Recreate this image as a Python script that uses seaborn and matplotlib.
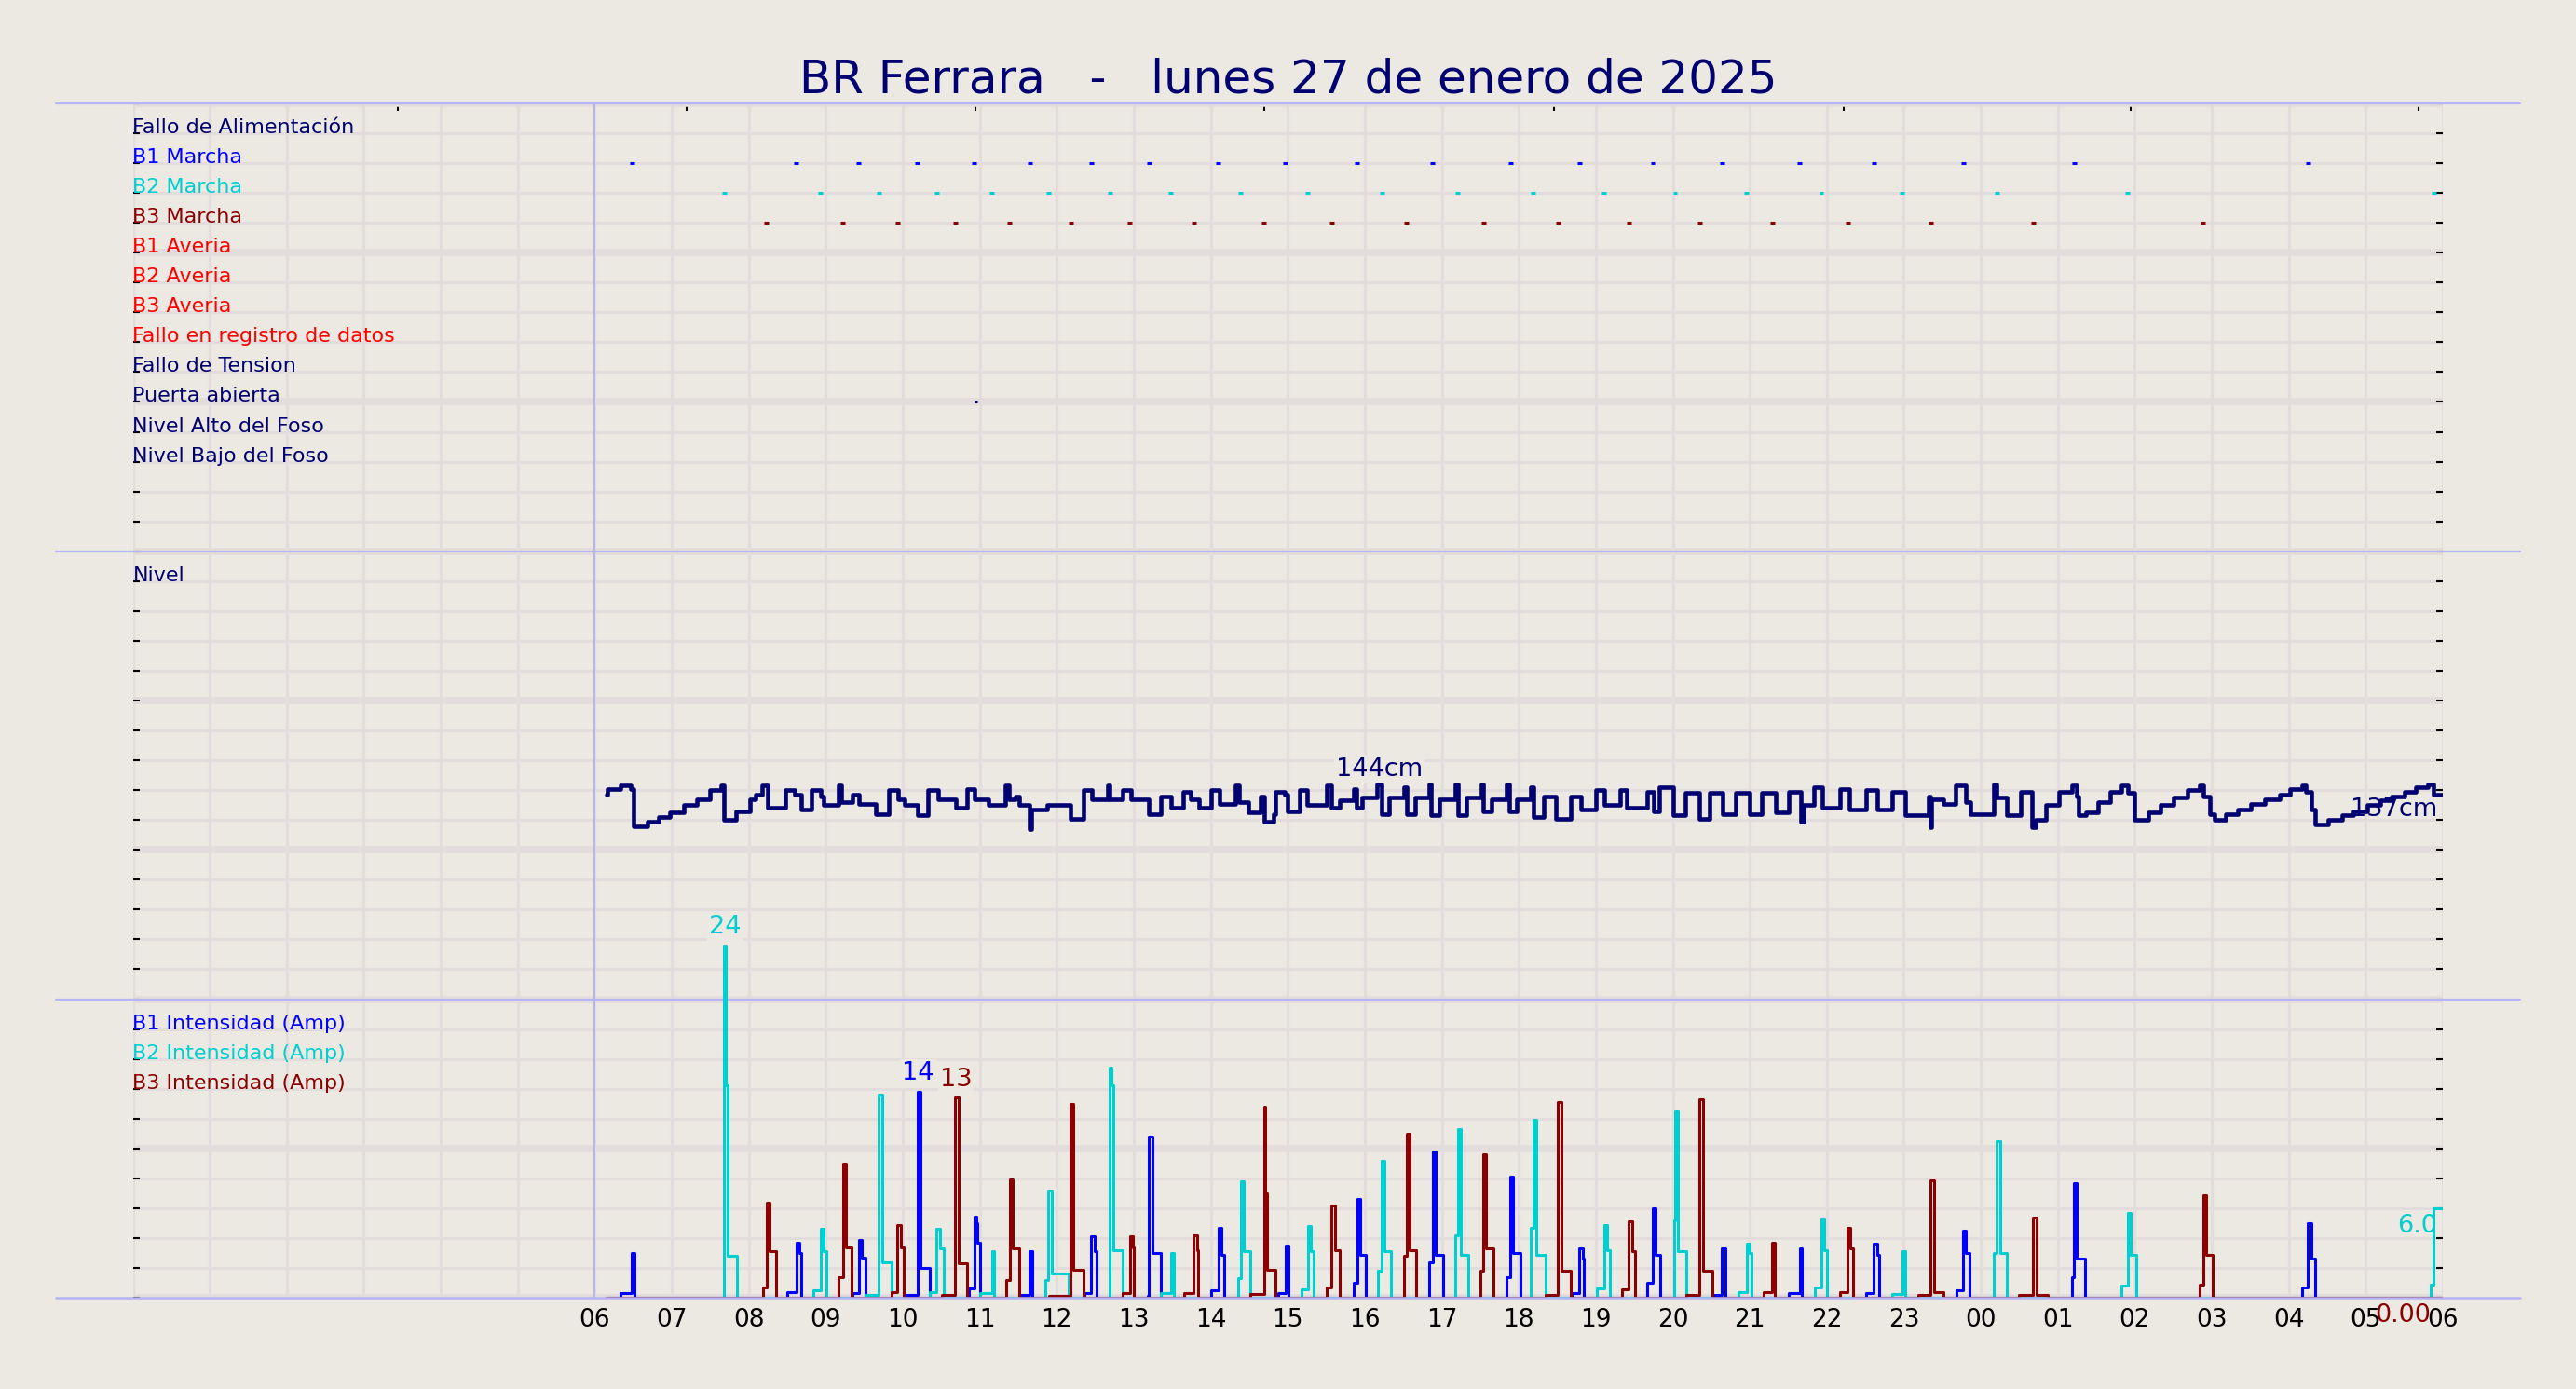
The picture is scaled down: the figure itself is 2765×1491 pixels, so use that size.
import matplotlib
matplotlib.use("Agg")
import matplotlib.pyplot as plt
from matplotlib.ticker import MultipleLocator
import seaborn as sns
import pandas as pd

# ---------------- datos ----------------
titulo = "BR Ferrara   -   lunes 27 de enero de 2025"

estado_labels = ["Fallo de Alimentación", "B1 Marcha", "B2 Marcha", "B3 Marcha",
                 "B1 Averia", "B2 Averia", "B3 Averia", "Fallo en registro de datos",
                 "Fallo de Tension", "Puerta abierta", "Nivel Alto del Foso",
                 "Nivel Bajo del Foso"]
intensidad_labels = ["B1 Intensidad (Amp)", "B2 Intensidad (Amp)", "B3 Intensidad (Amp)"]

# horas desde las 00:00 del 27 (30 = 06:00 del 28)
horas = list(range(0, 31))
hora_labels = ["", "", "", "", "", "",
               "06", "07", "08", "09", "10", "11", "12", "13", "14", "15", "16",
               "17", "18", "19", "20", "21", "22", "23", "00", "01", "02", "03",
               "04", "05", "06"]
top_ticks = [3.44, 7.19, 10.94, 14.70, 18.46, 22.22, 25.95, 29.68]

puerta_abierta_t = [10.95]

# nivel del foso (cm)
nivel_t = [6.15, 6.16, 6.33, 6.47, 6.50, 6.68, 6.83, 6.98, 7.16, 7.33, 7.49, 7.64, 7.68, 7.83,
           8.01, 8.09, 8.17, 8.24, 8.47, 8.60, 8.68, 8.81, 8.93, 8.97, 9.17, 9.20, 9.35, 9.43,
           9.65, 9.82, 9.94, 10.02, 10.19, 10.33, 10.46, 10.69, 10.84, 10.93, 11.11, 11.33, 11.38,
           11.46, 11.51, 11.65, 11.67, 11.88, 12.18, 12.35, 12.46, 12.66, 12.69, 12.85, 12.96,
           13.20, 13.35, 13.49, 13.64, 13.74, 13.85, 14.00, 14.11, 14.32, 14.37, 14.49, 14.65,
           14.69, 14.81, 14.84, 14.96, 15.00, 15.16, 15.25, 15.50, 15.57, 15.67, 15.86, 15.89,
           15.97, 16.16, 16.22, 16.32, 16.51, 16.54, 16.65, 16.84, 16.86, 16.97, 17.18, 17.21,
           17.32, 17.51, 17.54, 17.65, 17.84, 17.88, 17.97, 18.16, 18.19, 18.32, 18.48, 18.67,
           18.81, 19.00, 19.11, 19.32, 19.40, 19.67, 19.75, 19.83, 20.00, 20.16, 20.35, 20.48,
           20.65, 20.82, 21.00, 21.16, 21.34, 21.51, 21.66, 21.70, 21.83, 21.94, 22.17, 22.29,
           22.51, 22.65, 22.85, 23.02, 23.32, 23.34, 23.36, 23.52, 23.67, 23.80, 23.86, 24.17,
           24.21, 24.34, 24.52, 24.67, 24.71, 24.85, 25.02, 25.18, 25.24, 25.27, 25.37, 25.52,
           25.68, 25.83, 25.91, 25.99, 26.18, 26.33, 26.50, 26.68, 26.84, 26.89, 26.97, 27.03,
           27.18, 27.34, 27.51, 27.69, 27.88, 28.02, 28.17, 28.22, 28.29, 28.34, 28.51, 28.69,
           28.84, 29.02, 29.19, 29.34, 29.50, 29.65, 29.81, 29.88, 30.00]
nivel_cm = [137, 141, 143, 141, 116, 119, 122, 125, 130, 134, 140, 143, 120, 126,
            134, 137, 143, 128, 140, 137, 127, 140, 136, 130, 143, 132, 137, 131,
            124, 140, 134, 130, 123, 140, 134, 128, 141, 134, 130, 143, 134,
            136, 130, 114, 127, 130, 121, 140, 134, 143, 134, 140, 134,
            124, 136, 128, 139, 134, 128, 140, 131, 143, 132, 125, 136,
            119, 124, 139, 137, 126, 140, 130, 143, 128, 133, 141, 128,
            135, 144, 124, 135, 142, 124, 135, 144, 123, 134, 144, 123,
            135, 144, 126, 134, 144, 126, 134, 142, 122, 136, 121, 136,
            127, 140, 130, 140, 128, 139, 126, 142, 123, 138, 121, 138,
            124, 138, 124, 138, 125, 139, 119, 130, 142, 128, 141, 127,
            140, 127, 139, 123, 136, 115, 134, 131, 143, 132, 124, 144,
            135, 123, 139, 115, 120, 130, 139, 143, 136, 123, 125, 132,
            139, 143, 138, 120, 125, 130, 135, 140, 143, 136, 124, 120,
            124, 127, 131, 134, 137, 141, 143, 139, 127, 117, 120, 123,
            126, 130, 133, 136, 139, 142, 144, 137, 137]

# arranques de bombas: (inicio, pico, fin, A previo, A pico, A tras pico, A meseta)
b1_runs = [(6.33, 6.48, 6.51, 0.3, 3.0, 3.0, 2.8),
           (8.50, 8.62, 8.68, 0.4, 3.7, 3.7, 3.0),
           (9.35, 9.43, 9.52, 0.3, 3.9, 3.9, 2.7),
           (10.03, 10.19, 10.35, 0.2, 13.8, 13.8, 2.0),
           (10.86, 10.93, 11.00, 0.6, 5.4, 5.0, 3.7),
           (11.52, 11.65, 11.68, 0.2, 3.1, 3.1, 3.1),
           (12.36, 12.45, 12.52, 0.3, 4.1, 4.1, 3.1),
           (13.18, 13.20, 13.35, 0.1, 10.8, 10.8, 3.0),
           (14.00, 14.10, 14.18, 0.5, 4.7, 4.7, 2.9),
           (14.87, 14.97, 15.01, 0.3, 3.5, 3.5, 3.0),
           (15.86, 15.90, 16.01, 1.0, 6.6, 6.6, 2.9),
           (16.84, 16.88, 17.02, 2.4, 9.8, 9.8, 2.85),
           (17.84, 17.89, 18.02, 1.35, 8.1, 8.1, 3.0),
           (18.69, 18.79, 18.85, 0.3, 3.3, 3.3, 2.6),
           (19.67, 19.74, 19.84, 1.0, 6.0, 6.0, 2.9),
           (20.53, 20.64, 20.68, 0.2, 3.3, 3.3, 3.0),
           (21.51, 21.65, 21.67, 0.3, 3.3, 3.3, 3.3),
           (22.51, 22.61, 22.68, 0.3, 3.6, 3.6, 2.9),
           (23.69, 23.77, 23.85, 0.5, 4.5, 4.5, 3.0),
           (25.18, 25.21, 25.35, 1.35, 7.7, 7.7, 2.65),
           (28.17, 28.25, 28.34, 0.7, 5.0, 5.0, 2.65)]
b2_runs = [(7.66, 7.68, 7.85, 0.0, 23.6, 14.2, 2.8),
           (8.84, 8.93, 9.01, 0.5, 4.6, 4.6, 3.1),
           (9.52, 9.69, 9.85, 0.2, 13.6, 13.6, 2.35),
           (10.35, 10.44, 10.53, 0.4, 4.6, 4.6, 3.3),
           (11.00, 11.16, 11.18, 0.3, 3.1, 3.1, 3.1),
           (11.85, 11.89, 12.15, 1.2, 7.2, 7.2, 1.6),
           (12.67, 12.69, 12.85, 0.0, 15.4, 14.2, 3.2),
           (13.35, 13.48, 13.52, 0.3, 3.0, 3.0, 3.0),
           (14.35, 14.39, 14.51, 1.3, 7.8, 7.8, 3.1),
           (15.18, 15.26, 15.34, 0.55, 4.8, 4.8, 3.1),
           (16.17, 16.22, 16.34, 1.8, 9.2, 9.2, 3.1),
           (17.17, 17.21, 17.34, 4.2, 11.3, 11.3, 2.9),
           (18.15, 18.19, 18.35, 4.7, 11.9, 11.9, 2.9),
           (19.01, 19.11, 19.18, 0.6, 4.85, 4.85, 3.2),
           (20.02, 20.03, 20.18, 5.2, 12.5, 12.5, 3.1),
           (20.85, 20.96, 21.02, 0.35, 3.6, 3.6, 3.0),
           (21.84, 21.93, 22.00, 0.7, 5.3, 5.3, 3.2),
           (22.85, 22.98, 23.02, 0.25, 3.1, 3.1, 3.1),
           (24.17, 24.21, 24.34, 3.0, 10.5, 10.5, 3.0),
           (25.83, 25.91, 26.02, 0.8, 5.7, 5.7, 2.9),
           (29.84, 29.88, 30.00, 0.9, 6.0, 6.0, 6.0)]
b3_runs = [(8.18, 8.23, 8.35, 0.7, 6.35, 6.35, 3.1),
           (9.17, 9.22, 9.34, 1.35, 9.0, 9.0, 3.4),
           (9.85, 9.93, 10.01, 0.4, 4.85, 4.85, 3.4),
           (10.51, 10.68, 10.84, 0.2, 13.4, 13.4, 2.3),
           (11.34, 11.39, 11.51, 1.2, 7.9, 7.9, 3.3),
           (11.90, 12.18, 12.35, 0.1, 13.0, 13.0, 1.9),
           (12.85, 12.95, 13.00, 0.3, 4.1, 4.1, 3.4),
           (13.66, 13.78, 13.84, 0.3, 4.2, 4.2, 3.2),
           (14.51, 14.69, 14.84, 0.25, 12.8, 7.0, 1.9),
           (15.51, 15.57, 15.68, 0.7, 6.15, 6.15, 3.2),
           (16.51, 16.54, 16.67, 2.8, 11.0, 11.0, 3.2),
           (17.50, 17.54, 17.67, 1.8, 9.6, 9.6, 3.3),
           (18.35, 18.51, 18.68, 0.2, 13.1, 13.1, 1.8),
           (19.34, 19.43, 19.51, 0.55, 5.1, 5.1, 3.1),
           (20.18, 20.35, 20.52, 0.2, 13.3, 13.3, 1.8),
           (21.18, 21.29, 21.33, 0.35, 3.7, 3.7, 3.1),
           (22.17, 22.27, 22.34, 0.4, 4.7, 4.7, 3.3),
           (23.19, 23.35, 23.52, 0.2, 7.85, 7.85, 0.35),
           (24.50, 24.68, 24.87, 0.2, 5.35, 5.35, 0.2),
           (26.84, 26.89, 27.01, 0.9, 6.85, 6.85, 2.9)]

T_INI, T_FIN = 6.15, 30.0

# ---------------- estilo ----------------
BG = "#ECE8E2"
GRID = "#E2DDDC"
SEP = "#B4B4F6"
NAVY = "#000070"
C_B1, C_B2, C_B3, RED = "#0000FF", "#00CED1", "#8B0000", "#FF0000"
estado_colors = [NAVY, C_B1, C_B2, C_B3, RED, RED, RED, RED, NAVY, NAVY, NAVY, NAVY]

sns.set_style("white", {"axes.facecolor": BG, "figure.facecolor": BG})
plt.rcParams["font.family"] = ["DejaVu Sans"]


def serie_bomba(runs):
    t, a = [T_INI], [0.0]
    for t0, tp, t1, pre, pico, medio, meseta in runs:
        t += [t0, tp, min(tp + 0.02, t1), min(tp + 0.04, t1)]
        a += [pre, pico, medio, meseta]
        if t1 < T_FIN:
            t.append(t1)
            a.append(0.0)
    t.append(T_FIN)
    a.append(a[-1])
    return pd.DataFrame({"hora": t, "amp": a})


fig = plt.figure(figsize=(27.65, 14.91), dpi=100)
ax = fig.add_axes([142.5 / 2765, 98 / 1491, 2479.5 / 2765, 1282 / 1491])
ax.set_facecolor(BG)

# nivel: 0 cm en y=10, 20 cm por fila ; intensidad: 2 A por fila
ax_niv = ax.twinx()
ax_amp = ax.twinx()

# --- estado (marchas) ---
for i, runs in enumerate([b1_runs, b2_runs, b3_runs]):
    picos = [r[1] for r in runs]
    ax.hlines([38 - i] * len(picos), [p - 0.03 for p in picos], [p + 0.03 for p in picos],
              color=[C_B1, C_B2, C_B3][i], lw=2.2, zorder=3)
ax.hlines([30] * len(puerta_abierta_t), [p - 0.015 for p in puerta_abierta_t],
          [p + 0.015 for p in puerta_abierta_t], color=NAVY, lw=2.2, zorder=3)

for i, (lab, c) in enumerate(zip(estado_labels, estado_colors)):
    ax.text(0, 39 - i, lab, color=c, fontsize=16, ha="left", va="baseline")
ax.text(0, 24, "Nivel", color=NAVY, fontsize=16, ha="left", va="baseline")
for i, (lab, c) in enumerate(zip(intensidad_labels, [C_B1, C_B2, C_B3])):
    ax.text(0, 9 - i, lab, color=c, fontsize=16, ha="left", va="baseline")

# --- nivel ---
df_niv = pd.DataFrame({"hora": nivel_t, "cm": nivel_cm})
sns.lineplot(data=df_niv, x="hora", y="cm", ax=ax_niv, color=NAVY, lw=3.3,
             drawstyle="steps-post", estimator=None, sort=False)
ax_niv.set_ylim(-200, 600)
imax = int(df_niv["cm"].idxmax())
tmax = (nivel_t[imax] + nivel_t[imax + 1]) / 2
lbl_box = dict(facecolor=BG, edgecolor="none", pad=1.5)
ax_niv.text(tmax, nivel_cm[imax] + 2, f"{nivel_cm[imax]}cm", color=NAVY, fontsize=19.5,
            ha="center", va="bottom", bbox=lbl_box)
ax_niv.text(29.93, nivel_cm[-1] - 2, f"{nivel_cm[-1]}cm", color=NAVY, fontsize=19.5,
            ha="right", va="top")

# --- intensidades ---
for runs, c in [(b1_runs, C_B1), (b2_runs, C_B2), (b3_runs, C_B3)]:
    df = serie_bomba(runs)
    sns.lineplot(data=df, x="hora", y="amp", ax=ax_amp, color=c, lw=2.2,
                 drawstyle="steps-post", estimator=None, sort=False)
    top = max(runs, key=lambda r: r[4])
    ax_amp.text(top[1] + 0.01, top[4] + 0.4, f"{top[4]:.0f}", color=c, fontsize=19.5,
                ha="center", va="bottom", bbox=lbl_box)
ax_amp.set_ylim(0, 80)
ult_b2 = serie_bomba(b2_runs)["amp"].iloc[-1]
ult_b3 = serie_bomba(b3_runs)["amp"].iloc[-1]
ax_amp.text(29.93, ult_b2 - 0.4, f"{ult_b2:.1f}", color=C_B2, fontsize=19.5,
            ha="right", va="top")
ax_amp.text(29.85, ult_b3 - 0.4, f"{ult_b3:.2f}", color=C_B3, fontsize=19.5,
            ha="right", va="top", clip_on=False)

for a2 in (ax_niv, ax_amp):
    a2.axis("off")

# --- ejes / rejilla ---
ax.set_xlim(0, 30)
ax.set_ylim(0, 40)
ax.set_xticks(horas)
ax.set_xticklabels(hora_labels)
ax.yaxis.set_major_locator(MultipleLocator(5))
ax.yaxis.set_minor_locator(MultipleLocator(1))
ax.set_axisbelow(True)
ax.grid(axis="x", which="major", color=GRID, lw=2.4)
ax.grid(axis="y", which="major", color=GRID, lw=5.5)
ax.grid(axis="y", which="minor", color=GRID, lw=2.2)
ax.tick_params(axis="y", which="both", direction="in", left=True, right=True,
               length=5, width=1.5, color="black", labelleft=False, labelright=False)
ax.tick_params(axis="x", which="both", length=0, labelsize=19, pad=8, colors="black")
ax.set_xlabel("")
ax.set_ylabel("")
for s in ax.spines.values():
    s.set_visible(False)

sec = ax.secondary_xaxis("top")
sec.set_xticks(top_ticks)
sec.set_xticklabels([])
sec.tick_params(direction="in", length=6, width=1.5, color="black")
sec.spines["top"].set_visible(False)

for y in (40, 25, 10):
    ax.axhline(y, xmin=-1 / 30, xmax=31 / 30, color=SEP, lw=1.6, clip_on=False, zorder=2)
ax_amp.axhline(0, xmin=-1 / 30, xmax=31 / 30, color=SEP, lw=1.8, clip_on=False, zorder=5)
ax.axvline(6, color=SEP, lw=1.4, zorder=2)

fig.text(0.5, 1 - 100 / 1491, titulo, color=NAVY, fontsize=36, ha="center", va="baseline")

fig.savefig("out.png", dpi=100, facecolor=BG)
